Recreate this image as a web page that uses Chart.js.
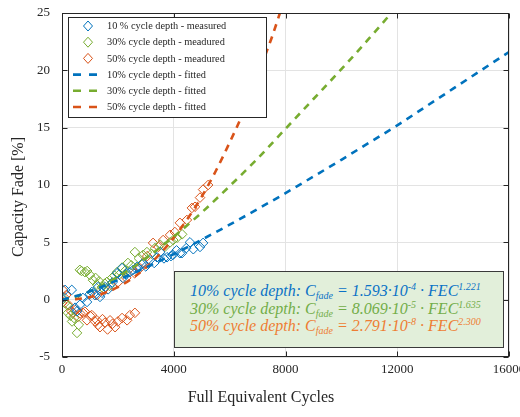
<!DOCTYPE html>
<html><head><meta charset="utf-8">
<script src="https://cdn.jsdelivr.net/npm/chart.js@4/dist/chart.umd.min.js"></script>
<style>
html,body{margin:0;padding:0;background:#fff;}
#wrap{position:relative;width:520px;height:417px;}
#c{position:absolute;left:0;top:0;}
#note{position:absolute;left:174px;top:271px;width:330px;height:77px;box-sizing:border-box;background:#e2efda;border:1px solid #3a3a3a;font-family:"Liberation Serif",serif;font-style:italic;font-size:16px;line-height:17.5px;padding:10px 0 0 15px;white-space:nowrap;}
#note sub{font-size:10px;vertical-align:-3px;line-height:0}
#note sup{font-size:10px;vertical-align:6px;line-height:0}
</style></head><body>
<div id="wrap"><canvas id="c" width="520" height="417" style="width:520px;height:417px"></canvas><div id="note"></div></div>
<script>
// ---- data ----
const xTicks = [0, 4000, 8000, 12000, 16000];
const yTicks = [-5, 0, 5, 10, 15, 20, 25];

const meas10X = [0, 110, 350, 470, 540, 640, 750, 895, 1000, 1070, 1180, 1290, 1360, 1430, 1540, 1650, 1800, 1970, 2150, 2180, 2300, 2430, 2550, 2680, 2720, 2850, 3000, 3150, 3300, 3400, 3510, 3650, 3760, 3900, 3970, 4100, 4220, 4290, 4450, 4580, 4700, 4940, 5050];
const meas10Y = [0.1, 0.85, 0.85, -0.7, -1.0, -0.45, 0.15, -0.2, 0.5, 0.67, 0.4, 1.1, 0.24, 0.6, 1.1, 0.9, 1.5, 2.3, 2.75, 1.9, 2.2, 2.4, 2.6, 2.85, 2.77, 3.1, 2.9, 3.45, 3.2, 3.7, 4.15, 3.6, 3.7, 3.8, 3.9, 4.3, 4.05, 4.05, 4.5, 5.0, 4.4, 4.6, 4.95];

const meas30X = [0, 100, 180, 215, 300, 360, 430, 537, 600, 640, 700, 820, 900, 1000, 1110, 1200, 1250, 1330, 1430, 1530, 1610, 1700, 1790, 1880, 1970, 2050, 2150, 2250, 2360, 2480, 2610, 2750, 2900, 3040, 3200, 3330, 3510, 3680, 3870, 3980, 4120, 4300];
const meas30Y = [0.2, -0.3, -0.45, -1.15, -1.4, -1.9, -1.6, -2.9, -2.2, 2.6, 2.5, 2.4, 2.5, 2.15, 1.7, 1.9, 1.3, 1.6, 1.1, 1.4, 1.55, 1.2, 1.9, 2.1, 2.4, 2.2, 2.8, 2.5, 3.2, 3.0, 4.15, 3.6, 3.9, 4.15, 4.0, 4.5, 4.8, 4.6, 5.0, 5.2, 5.4, 5.7];

const meas50X = [0, 30, 80, 150, 250, 330, 400, 480, 575, 650, 750, 820, 895, 1000, 1070, 1180, 1250, 1290, 1360, 1450, 1540, 1630, 1720, 1810, 1900, 2000, 2150, 2330, 2430, 2610, 1250, 1500, 1800, 2000, 2300, 2600, 2790, 2900, 3050, 3260, 3450, 3620, 3870, 4040, 4220, 4470, 4650, 4760, 4940, 5050, 5230];
const meas50Y = [-0.3, 0.85, 0.2, 0.4, -0.5, -1.0, -1.15, -0.9, -1.5, -1.2, -1.15, -1.05, -1.8, -1.4, -1.35, -1.9, -1.8, -2.2, -2.4, -1.7, -2.0, -2.6, -1.8, -2.1, -2.4, -1.9, -1.6, -1.8, -1.35, -1.15, 0.4, 0.9, 1.2, 1.5, 1.9, 2.3, 2.75, 3.2, 3.8, 4.95, 4.6, 5.2, 5.65, 5.9, 6.7, 6.95, 8.0, 8.1, 8.9, 9.6, 10.0];

const fit10X = [0, 250, 500, 1000, 2000, 3000, 4000, 5000, 6000, 7000, 8000, 9000, 10000, 11000, 12000, 13000, 14000, 15000, 16000];
const fit10Y = [0, 0.14, 0.31, 0.73, 1.71, 2.80, 3.98, 5.23, 6.54, 7.90, 9.29, 10.74, 12.2, 13.7, 15.2, 16.8, 18.4, 20.0, 21.6];

const fit30X = [0, 250, 500, 1000, 2000, 3000, 4000, 5000, 6000, 7000, 8000, 9000, 10000, 11000, 12000];
const fit30Y = [0, 0.10, 0.27, 0.73, 2.0, 3.6, 5.5, 7.6, 9.9, 12.3, 14.9, 17.5, 20.1, 22.8, 25.6];

const fit50X = [0, 250, 500, 1000, 1500, 2000, 2500, 3000, 3500, 4000, 4500, 5000, 5500, 6000, 6500, 7000, 7500, 8000];
const fit50Y = [0, 0.01, 0.045, 0.22, 0.56, 1.09, 1.83, 2.78, 3.97, 5.39, 7.07, 8.98, 11.2, 13.7, 16.4, 19.6, 22.8, 26.5];

const seriesLabels = ['10 % cycle depth - measured', '30% cycle depth - meadured', '50% cycle depth - meadured',
                      '10% cycle depth - fitted', '30% cycle depth - fitted', '50% cycle depth - fitted'];
const noteDepth = ['10% cycle depth', '30% cycle depth', '50% cycle depth'];
const noteCoef = ['1.593', '8.069', '2.791'];
const noteCoefExp = ['-4', '-5', '-8'];
const noteFecExp = ['1.221', '1.635', '2.300'];

// ---- styles ----
const C10 = '#0072BD', C30 = '#77AC30', C50 = '#D95319';
const noteColors = ['#0a72c6', '#72ad48', '#ee7d33'];
const SERIF = '"Liberation Serif", "Times New Roman", serif';

const pts = (xs, ys) => xs.map((x, i) => ({x: x, y: ys[i]}));
const measDs = (lbl, xs, ys, col) => ({label: lbl, data: pts(xs, ys), pointStyle: 'rectRot', pointRadius: 4.8,
  borderColor: col, backgroundColor: 'rgba(0,0,0,0)', pointBorderWidth: 1, borderWidth: 1, showLine: false, order: 1});
const fitDs = (lbl, xs, ys, col) => ({label: lbl, data: pts(xs, ys), showLine: true, pointRadius: 0,
  borderColor: col, borderWidth: 2.6, borderDash: [7, 6], fill: false, cubicInterpolationMode: 'monotone', order: 0});

const datasets = [
  measDs(seriesLabels[0], meas10X, meas10Y, C10),
  measDs(seriesLabels[1], meas30X, meas30Y, C30),
  measDs(seriesLabels[2], meas50X, meas50Y, C50),
  fitDs(seriesLabels[3], fit10X, fit10Y, C10),
  fitDs(seriesLabels[4], fit30X, fit30Y, C30),
  fitDs(seriesLabels[5], fit50X, fit50Y, C50)
];

// ---- annotation box text ----
document.getElementById('note').innerHTML = noteDepth.map((d, i) =>
  '<div style="color:' + noteColors[i] + '">' + d + ': C<sub>fade</sub> = ' + noteCoef[i] + '·10<sup>' + noteCoefExp[i] +
  '</sup> · FEC<sup>' + noteFecExp[i] + '</sup></div>').join('');

// ---- plugins ----
const framePlugin = {
  id: 'frame',
  afterDatasetsDraw(chart) {
    const {ctx, chartArea: a, scales: {x, y}} = chart;
    ctx.save();
    ctx.strokeStyle = '#262626';
    ctx.lineWidth = 1;
    const L = Math.round(a.left) + 0.5, R = Math.round(a.right) - 0.5, T = Math.round(a.top) + 0.5, B = Math.round(a.bottom) - 0.5;
    ctx.beginPath();
    xTicks.forEach(v => {
      const px = Math.round(x.getPixelForValue(v)) + 0.5;
      ctx.moveTo(px, B); ctx.lineTo(px, B - 5);
      ctx.moveTo(px, T); ctx.lineTo(px, T + 5);
    });
    yTicks.forEach(v => {
      const py = Math.round(y.getPixelForValue(v)) + 0.5;
      ctx.moveTo(L, py); ctx.lineTo(L + 5, py);
      ctx.moveTo(R, py); ctx.lineTo(R - 5, py);
    });
    ctx.stroke();
    ctx.strokeRect(L, T, R - L, B - T);

    // axis titles
    ctx.fillStyle = '#262626';
    ctx.font = '16px ' + SERIF;
    ctx.textAlign = 'center';
    ctx.textBaseline = 'middle';
    ctx.fillText('Full Equivalent Cycles', 261, 398);
    ctx.save();
    ctx.translate(19, 197);
    ctx.rotate(-Math.PI / 2);
    ctx.fillText('Capacity Fade [%]', 0, 0);
    ctx.restore();

    // legend box
    const bx = 68.5, by = 17.5, bw = 198, bh = 100;
    ctx.fillStyle = '#ffffff';
    ctx.fillRect(bx, by, bw, bh);
    ctx.strokeStyle = '#262626';
    ctx.lineWidth = 1;
    ctx.strokeRect(bx, by, bw, bh);
    ctx.font = '10.3px ' + SERIF;
    ctx.textAlign = 'left';
    const ds = chart.data.datasets;
    ds.forEach((d, i) => {
      const cy = 26 + i * 16.2;
      ctx.strokeStyle = d.borderColor;
      if (d.showLine) {
        ctx.lineWidth = 2.6;
        ctx.beginPath();
        ctx.moveTo(73, cy); ctx.lineTo(81, cy);
        ctx.moveTo(89, cy); ctx.lineTo(97, cy);
        ctx.stroke();
      } else {
        ctx.lineWidth = 1;
        ctx.beginPath();
        ctx.moveTo(88, cy - 5); ctx.lineTo(92.5, cy); ctx.lineTo(88, cy + 5); ctx.lineTo(83.5, cy); ctx.closePath();
        ctx.stroke();
      }
      ctx.fillStyle = '#262626';
      ctx.fillText(d.label, 107, cy + 0.5);
    });
    ctx.restore();
  }
};

new Chart(document.getElementById('c'), {
  type: 'scatter',
  data: {datasets: datasets},
  options: {
    responsive: false,
    animation: false,
    events: [],
    layout: {padding: {top: 13, right: 11, bottom: 0, left: 0}},
    plugins: {legend: {display: false}, tooltip: {enabled: false}},
    scales: {
      x: {
        type: 'linear', min: 0, max: 16000,
        afterBuildTicks: s => { s.ticks = xTicks.map(v => ({value: v})); },
        afterFit: s => { s.height = 60; s.paddingLeft = 0; s.paddingRight = 0; },
        grid: {color: '#e3e3e3', lineWidth: 1, drawTicks: false},
        border: {display: false},
        ticks: {font: {family: SERIF, size: 13}, color: '#262626', padding: 5, maxRotation: 0, autoSkip: false, callback: v => String(v)}
      },
      y: {
        type: 'linear', min: -5, max: 25,
        afterBuildTicks: s => { s.ticks = yTicks.map(v => ({value: v})); },
        afterFit: s => { s.width = 62; s.paddingTop = 0; s.paddingBottom = 0; },
        grid: {color: '#e3e3e3', lineWidth: 1, drawTicks: false},
        border: {display: false},
        ticks: {font: {family: SERIF, size: 13}, color: '#262626', padding: 12, autoSkip: false, callback: v => String(v)}
      }
    }
  },
  plugins: [framePlugin]
});
</script>
</body></html>
